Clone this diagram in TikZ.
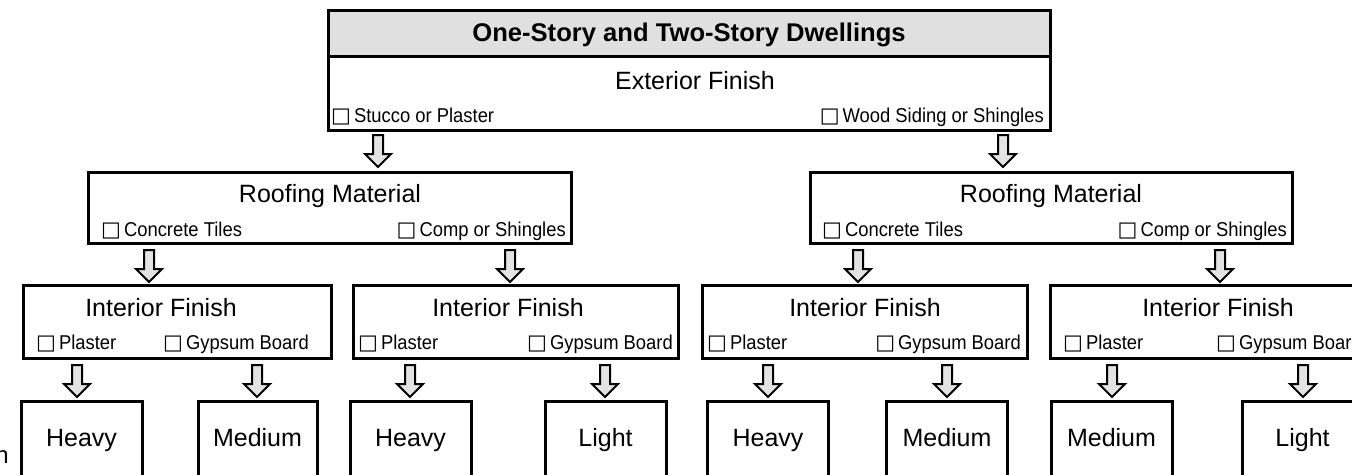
\documentclass[tikz,border=0pt]{standalone}
\usepackage{fontspec}
\setmainfont{Liberation Sans}
\newfontfamily\optfont[FakeStretch=0.92]{Liberation Sans}
\newfontfamily\boxfont{DejaVu Sans}
\newcommand{\cbx}{{\boxfont\fontsize{21}{22}\selectfont □}\hspace{3pt}}
\definecolor{hdrgray}{HTML}{E0E0E0}
\definecolor{arrgray}{HTML}{E3E3E3}
\tikzset{
  box/.style={draw=black, line width=3pt, fill=white, inner sep=0pt},
  lbl/.style={font=\fontsize{25}{30}\selectfont, inner sep=0pt, anchor=base},
  hdrtxt/.style={font=\bfseries\fontsize{25.6}{30}\selectfont, inner sep=0pt, anchor=base},
  opt/.style={font=\optfont\fontsize{20}{23}\selectfont, inner sep=0pt},
  optl/.style={opt, anchor=base west},
  optr/.style={opt, anchor=base east},
  blockarrow/.pic={\draw[line width=2pt, fill=arrgray, line join=miter]
     (-5,0) -- (5,0) -- (5,19) -- (13,19) -- (0,32) -- (-13,19) -- (-5,19) -- cycle;}
}
\begin{document}
\begin{tikzpicture}[x=1pt,y=-1pt]
\useasboundingbox (0,0) rectangle (1352,474);
\fill[white] (0,0) rectangle (1352,474);
\clip (0,0) rectangle (1352,474);

% top box
\node[box, minimum width=722pt, minimum height=74pt] (ext) at (689,93) {};
\node[box, fill=hdrgray, minimum width=722pt, minimum height=46pt] (hdr) at (689,33) {};
\node[hdrtxt] (hdrt) at (689,41) {One-Story and Two-Story Dwellings};
\node[lbl] (extt) at (695,89) {Exterior Finish};
\node[optl] (exto1) at (331,122) {\cbx Stucco or Plaster};
\node[optr] (exto2) at (1044,122) {\cbx Wood Siding or Shingles};

% roofing boxes
\node[box, minimum width=483pt, minimum height=71pt] (rl) at (329.5,207.5) {};
\node[lbl] (rlt) at (330,202) {Roofing Material};
\node[optl] (rlo1) at (101,236) {\cbx Concrete Tiles};
\node[optr] (rlo2) at (566,236) {\cbx Comp or Shingles};

\node[box, minimum width=482pt, minimum height=71pt] (rr) at (1051,207.5) {};
\node[lbl] (rrt) at (1051,202) {Roofing Material};
\node[optl] (rro1) at (822,236) {\cbx Concrete Tiles};
\node[optr] (rro2) at (1287,236) {\cbx Comp or Shingles};

% interior boxes
\node[box, minimum width=308pt, minimum height=73pt] (i1) at (177,321.5) {};
\node[lbl] (i1t) at (161,316) {Interior Finish};
\node[optl] (i1o1) at (36,349) {\cbx Plaster};
\node[optr] (i1o2) at (309,349) {\cbx Gypsum Board};

\node[box, minimum width=325pt, minimum height=73pt] (i2) at (515.5,321.5) {};
\node[lbl] (i2t) at (508,316) {Interior Finish};
\node[optl] (i2o1) at (358,349) {\cbx Plaster};
\node[optr] (i2o2) at (673,349) {\cbx Gypsum Board};

\node[box, minimum width=325pt, minimum height=73pt] (i3) at (864.5,321.5) {};
\node[lbl] (i3t) at (865,316) {Interior Finish};
\node[optl] (i3o1) at (707,349) {\cbx Plaster};
\node[optr] (i3o2) at (1021,349) {\cbx Gypsum Board};

\node[box, minimum width=325pt, minimum height=73pt] (i4) at (1212.5,321.5) {};
\node[lbl] (i4t) at (1218,316) {Interior Finish};
\node[optl] (i4o1) at (1063,349) {\cbx Plaster};
\node[optl] (i4o2) at (1216,349) {\cbx Gypsum Board};

% result boxes
\node[box, minimum width=121pt, minimum height=90pt] (h1) at (81.5,446) {};
\node[lbl] (h1t) at (h1 |- 0,446) {Heavy};
\node[box, minimum width=119pt, minimum height=90pt] (m1) at (257.5,446) {};
\node[lbl] (m1t) at (m1 |- 0,446) {Medium};
\node[box, minimum width=121pt, minimum height=90pt] (h2) at (410.5,446) {};
\node[lbl] (h2t) at (h2 |- 0,446) {Heavy};
\node[box, minimum width=121pt, minimum height=90pt] (l2) at (605.5,446) {};
\node[lbl] (l2t) at (l2 |- 0,446) {Light};
\node[box, minimum width=121pt, minimum height=90pt] (h3) at (768,446) {};
\node[lbl] (h3t) at (h3 |- 0,446) {Heavy};
\node[box, minimum width=121pt, minimum height=90pt] (m3) at (947,446) {};
\node[lbl] (m3t) at (m3 |- 0,446) {Medium};
\node[box, minimum width=121pt, minimum height=90pt] (m4) at (1111.5,446) {};
\node[lbl] (m4t) at (m4 |- 0,446) {Medium};
\node[box, minimum width=121pt, minimum height=90pt] (l4) at (1302.5,446) {};
\node[lbl] (l4t) at (l4 |- 0,446) {Light};

% cut-off side text
\node[font=\fontsize{24}{28}\selectfont, inner sep=0pt, anchor=base east] (side) at (9,463) {n};

% block arrows
\foreach \n/\x/\y in {a1/378/135, a2/1003/135,
                      b1/149/250, b2/510/250, b3/858/250, b4/1220/250,
                      c1/77/365, c2/257/365, c3/410/365, c4/605/365,
                      c5/768/365, c6/947/365, c7/1112/365, c8/1303/365}{
  \coordinate (\n) at (\x,\y);
  \pic at (\n) {blockarrow};
}
\end{tikzpicture}
\end{document}
